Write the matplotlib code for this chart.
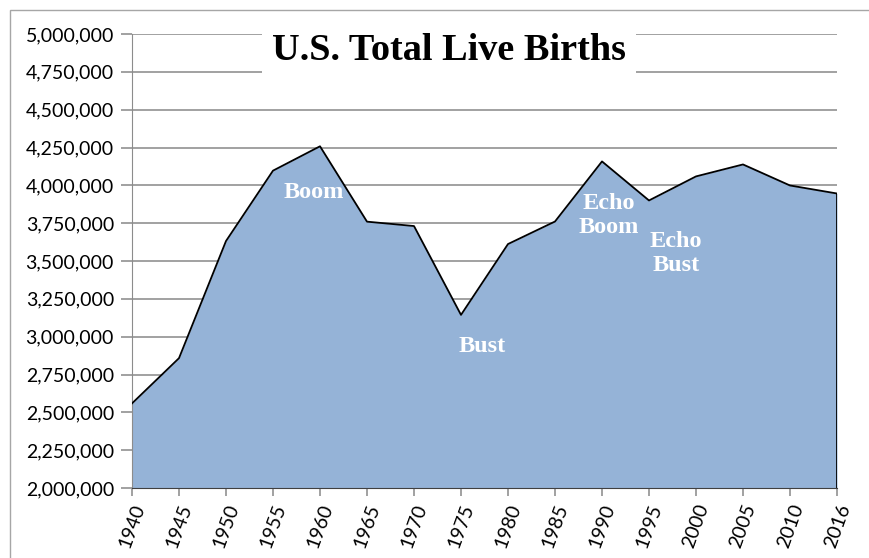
import numpy as np
import matplotlib.pyplot as plt
from matplotlib.patches import Rectangle
from matplotlib.ticker import FuncFormatter

# данные: рождения в США
years = ['1940', '1945', '1950', '1955', '1960', '1965', '1970', '1975',
         '1980', '1985', '1990', '1995', '2000', '2005', '2010', '2016']
births = [2559000, 2858000, 3632000, 4097000, 4258000, 3760000, 3731000, 3144000,
          3612000, 3761000, 4158000, 3900000, 4059000, 4138000, 3999000, 3946000]

# подписи на графике: (текст, индекс по x, значение по y)
notes = [('Boom', 3.87, 3950000),
         ('Bust', 7.45, 2935000),
         ('Echo\nBoom', 10.15, 3800000),
         ('Echo\nBust', 11.57, 3550000)]

fig = plt.figure(figsize=(8.7, 5.58), dpi=100)
ax = fig.add_axes([132 / 870, 1 - 488 / 558, 705 / 870, 454 / 558])

# рамка вокруг всей картинки
fig.patches.append(Rectangle((10 / 870, -0.1), 1.2, (548 / 558) + 0.1, transform=fig.transFigure,
                             fill=False, edgecolor='#a6a6a6', lw=1.0))

x = np.arange(len(years))
ax.fill_between(x, births, 2000000, color='#95b3d7', lw=0, zorder=2)
ax.plot(x, births, color='black', lw=1.3, zorder=3)
ax.plot([x[-1], x[-1]], [2000000, births[-1]], color='black', lw=1.3, zorder=3)

ax.set_xlim(0, len(years) - 1)
ax.set_ylim(2000000, 5000000)
ax.set_yticks(np.arange(2000000, 5000001, 250000))
ax.yaxis.set_major_formatter(FuncFormatter(lambda v, p: f'{int(v):,}'))
ax.set_xticks(x)
ax.set_xticklabels(years, rotation=70, ha='right', va='top', rotation_mode='anchor')

ax.grid(axis='y', color='#9a9a9a', lw=1.3, zorder=1)
for s in ['top', 'right']:
    ax.spines[s].set_visible(False)
ax.spines['left'].set_color('#8c8c8c')
ax.spines['bottom'].set_color('#404040')
ax.spines['bottom'].set_zorder(4)
ax.tick_params(axis='y', length=8, color='#9a9a9a', width=1.3, labelsize=14, pad=5)
ax.tick_params(axis='x', length=6, color='#9a9a9a', width=1.3, labelsize=14, pad=4)
for lab in ax.get_xticklabels() + ax.get_yticklabels():
    lab.set_family('Lato')

# заголовок в белой рамке
ax.text(6.745, 4888000, 'U.S. Total Live Births', ha='center', va='center',
        fontsize=27.5, fontweight='bold', family='Liberation Serif', zorder=5,
        clip_on=False, bbox=dict(facecolor='white', edgecolor='none', pad=7.5))

for txt, xi, yv in notes:
    ax.text(xi, yv, txt, ha='center', va='center', color='white', fontsize=17.5,
            fontweight='bold', family='Liberation Serif', linespacing=1.2, zorder=5)

fig.savefig('out.png', dpi=100)
